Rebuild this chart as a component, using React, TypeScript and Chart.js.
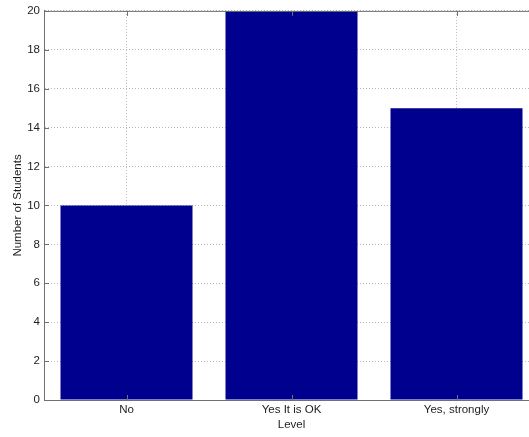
import React, { useEffect, useRef } from "react";
import { Chart, registerables } from "chart.js";

Chart.register(...registerables);

const categories = ["No", "Yes It is OK", "Yes, strongly"];
const studentCounts = [10, 20, 15];
const yTicks = [0, 2, 4, 6, 8, 10, 12, 14, 16, 18, 20];
const xTitle = "Level";
const yTitle = "Number of Students";

const FONT = "'Liberation Sans', Arial, sans-serif";
const AXIS_COLOR = "#707070";
const TEXT_COLOR = "#1e1e1e";
const FONT_SIZE = 11.5;

const frameTicks = {
  id: "frameTicks",
  afterDatasetsDraw(chart: any) {
    const { ctx, chartArea, scales } = chart;
    const { left, right, top, bottom } = chartArea;
    ctx.save();
    ctx.strokeStyle = AXIS_COLOR;
    ctx.lineWidth = 1;
    ctx.setLineDash([]);
    ctx.beginPath();
    ctx.moveTo(left, top + 0.5);
    ctx.lineTo(right, top + 0.5);
    yTicks.forEach((v) => {
      const y = Math.round(scales.y.getPixelForValue(v)) + 0.5;
      ctx.moveTo(left, y);
      ctx.lineTo(left + 5, y);
    });
    categories.forEach((_, i) => {
      const x = Math.round(scales.x.getPixelForValue(i)) + 0.5;
      ctx.moveTo(x, bottom);
      ctx.lineTo(x, bottom - 5);
      ctx.moveTo(x, top);
      ctx.lineTo(x, top + 5);
    });
    ctx.stroke();
    ctx.restore();
  },
};

export default function App() {
  const ref = useRef<HTMLCanvasElement>(null);
  useEffect(() => {
    if (!ref.current) return;
    const chart = new Chart(ref.current, {
      type: "bar",
      data: {
        labels: categories,
        datasets: [
          {
            data: studentCounts,
            backgroundColor: "#00008F",
            borderWidth: 0,
            categoryPercentage: 0.8,
            barPercentage: 1.0,
          },
        ],
      },
      options: {
        animation: false,
        responsive: false,
        maintainAspectRatio: false,
        devicePixelRatio: 1,
        layout: { padding: { top: 10, right: 21, left: 0, bottom: 0 } },
        plugins: { legend: { display: false }, tooltip: { enabled: false } },
        scales: {
          x: {
            grid: {
              offset: false,
              drawTicks: false,
              color: "#b8b8b8",
              lineWidth: 1,
            },
            border: { display: true, color: AXIS_COLOR, dash: [1, 2] },
            ticks: {
              color: TEXT_COLOR,
              font: { family: FONT, size: FONT_SIZE },
              padding: 3,
              maxRotation: 0,
            },
            title: {
              display: true,
              text: xTitle,
              color: TEXT_COLOR,
              font: { family: FONT, size: FONT_SIZE },
              padding: { top: 0, bottom: 5 },
            },
            afterFit(scale: any) {
              scale.height = 37;
            },
          },
          y: {
            min: 0,
            max: 20,
            grid: {
              drawTicks: false,
              color: "#b8b8b8",
              lineWidth: 1,
            },
            border: { display: true, color: AXIS_COLOR, dash: [1, 2] },
            ticks: {
              stepSize: 2,
              color: TEXT_COLOR,
              font: { family: FONT, size: FONT_SIZE },
              padding: 4,
            },
            title: {
              display: true,
              text: yTitle,
              color: TEXT_COLOR,
              font: { family: FONT, size: FONT_SIZE },
              padding: { top: 11, bottom: 0 },
            },
            afterFit(scale: any) {
              scale.width = 44;
            },
          },
        },
      },
      plugins: [frameTicks],
    });
    return () => chart.destroy();
  }, []);

  return (
    <div
      style={{
        position: "fixed",
        left: 0,
        top: 0,
        width: 529,
        height: 437,
        overflow: "hidden",
        background: "#fff",
      }}
    >
      <canvas ref={ref} width={560} height={437} style={{ display: "block" }} />
    </div>
  );
}
